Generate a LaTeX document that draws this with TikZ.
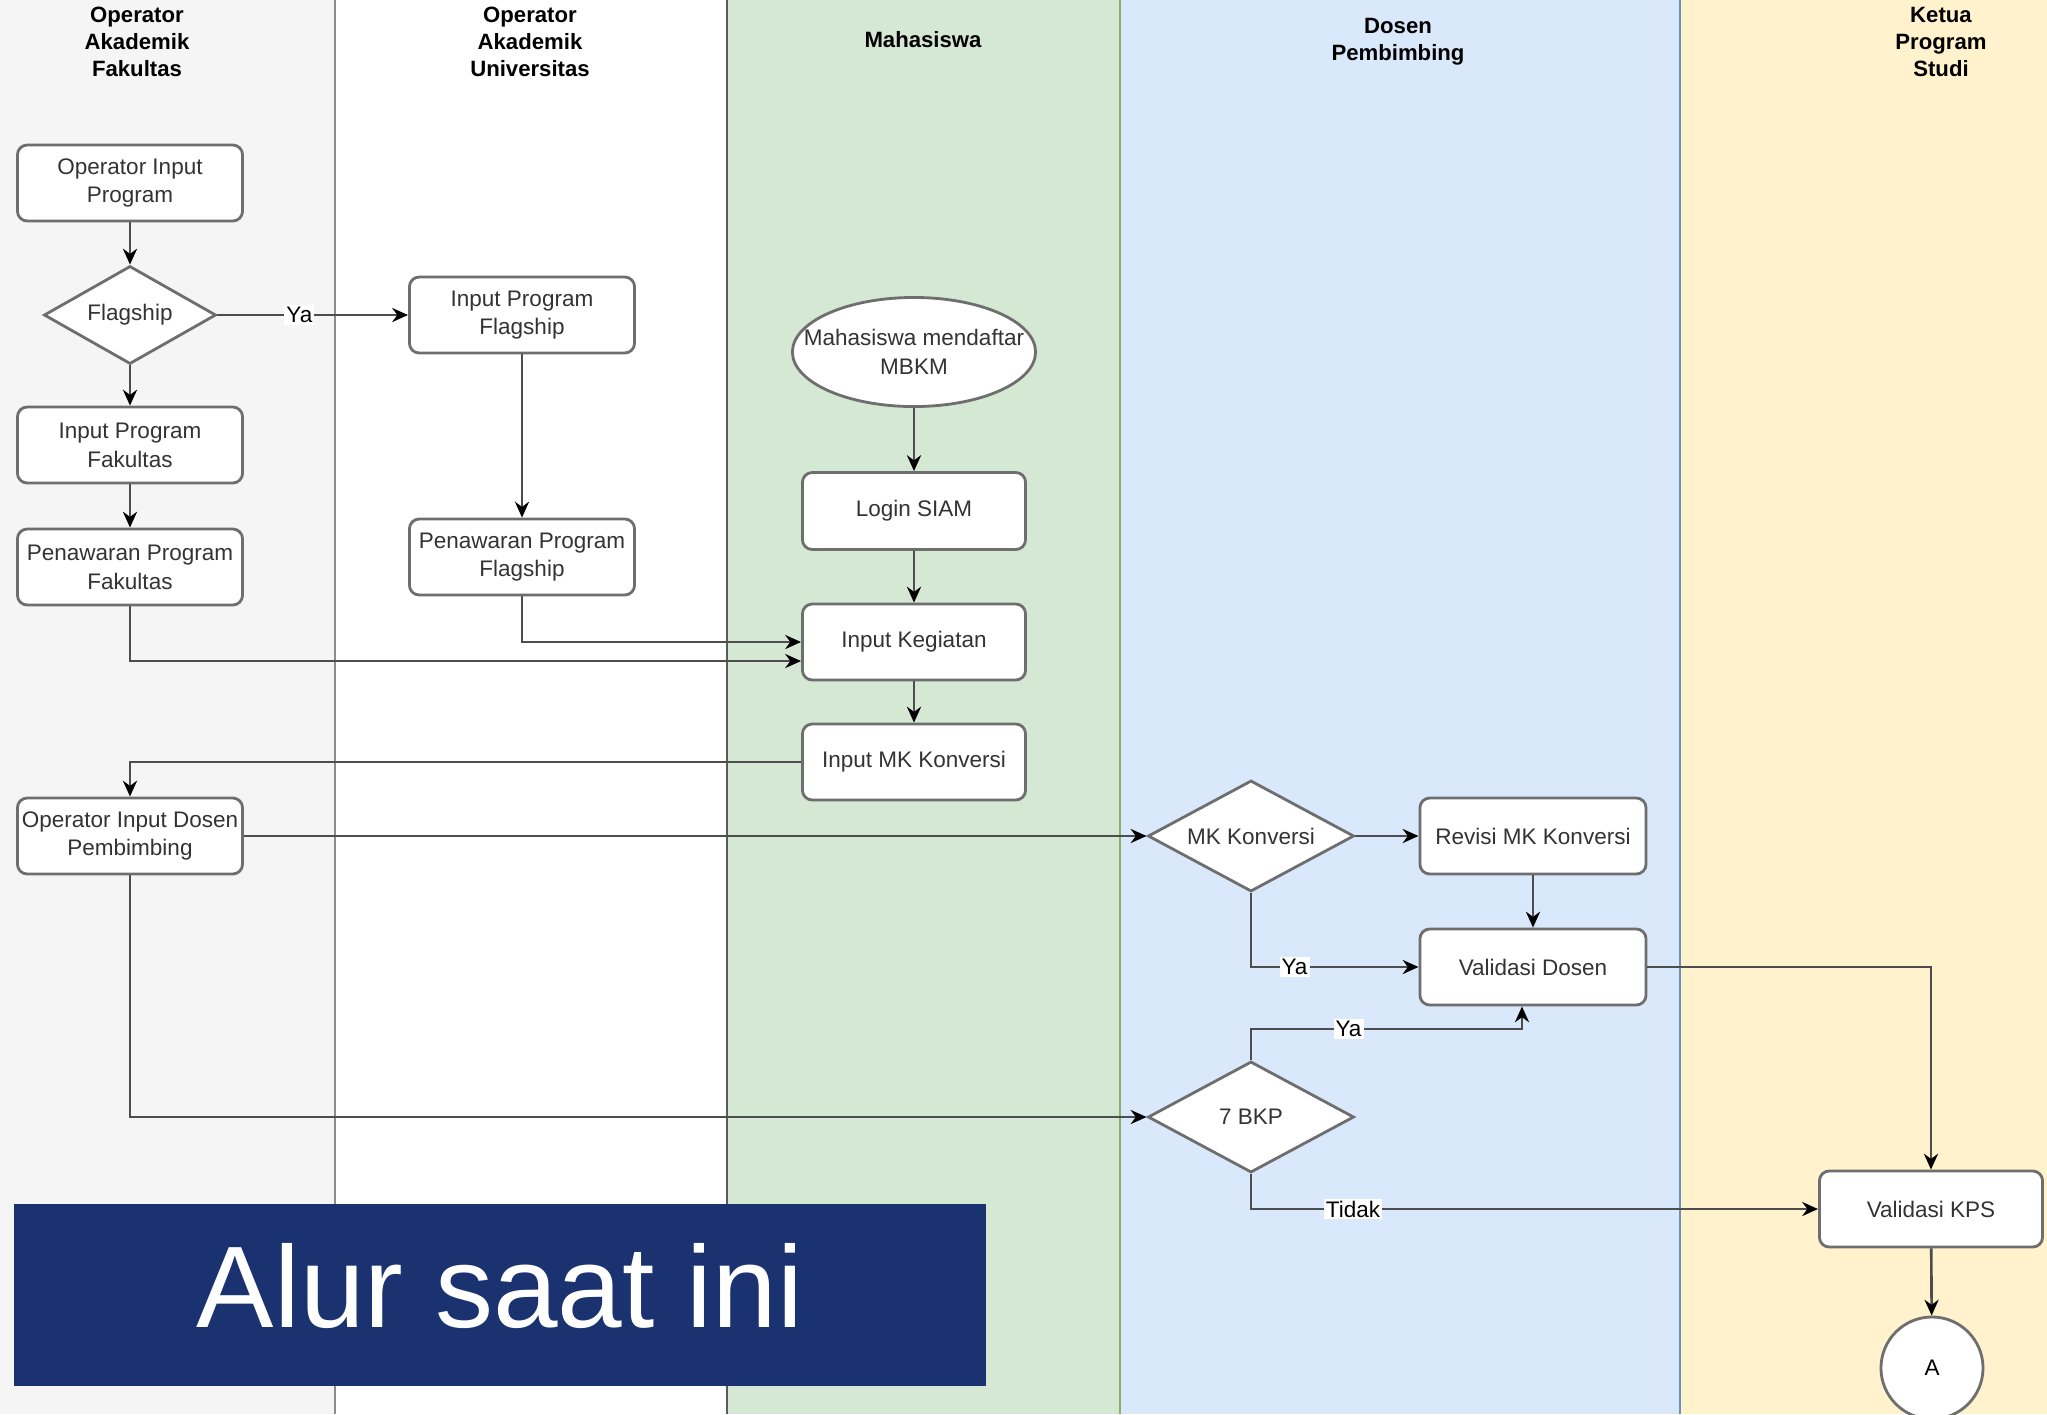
\documentclass[tikz,border=0pt]{standalone}
\usepackage{fontspec}
\setmainfont{Liberation Sans}
\usetikzlibrary{shapes.geometric,arrows.meta}
\definecolor{laneGray}{HTML}{F5F5F5}
\definecolor{laneGreen}{HTML}{D5E8D4}
\definecolor{laneBlue}{HTML}{DAE8FC}
\definecolor{laneYellow}{HTML}{FFF2CC}
\definecolor{divGray}{HTML}{8C8C8C}
\definecolor{divDark}{HTML}{5A5A5A}
\definecolor{divGreen}{HTML}{82B366}
\definecolor{divBlue}{HTML}{6C8EBF}
\definecolor{boxLine}{HTML}{6E6E6E}
\definecolor{lineGray}{HTML}{4D4D4D}
\definecolor{txtGray}{HTML}{333333}
\definecolor{bannerBlue}{HTML}{1A3270}

\begin{document}
\begin{tikzpicture}[x=0.01cm,y=-0.01cm,
    every node/.style={font=\fontsize{6.4}{8.2}\selectfont, text=txtGray},
    proc/.style={draw=boxLine, line width=0.8pt, rounded corners=2.8pt, fill=white,
        minimum width=2.25cm, minimum height=0.76cm, align=center, inner sep=1pt},
    dec/.style={diamond, aspect=1.85, draw=boxLine, line width=0.8pt, fill=white, inner sep=0pt,
        minimum width=2.06cm, minimum height=1.11cm},
    conn/.style={draw=lineGray, line width=0.75pt, -{Stealth[length=4.5pt,width=4pt,color=black]}},
    lbl/.style={fill=white, inner sep=0.6pt, text=black},
    lanehead/.style={font=\fontsize{6.3}{7.6}\selectfont\bfseries, align=center, text=black}]
    \useasboundingbox (0,0) rectangle (2047,1414);
    \fill[laneGray] (0,0) rectangle (335,1414);
    \fill[white] (335,0) rectangle (727,1414);
    \fill[laneGreen] (727,0) rectangle (1120,1414);
    \fill[laneBlue] (1120,0) rectangle (1680,1414);
    \fill[laneYellow] (1680,0) rectangle (2047,1414);
    \draw[divGray, line width=0.6pt] (335,0) -- (335,1414);
    \draw[divDark, line width=0.6pt] (727,0) -- (727,1414);
    \draw[divGreen, line width=0.6pt] (1120,0) -- (1120,1414);
    \draw[divBlue, line width=0.6pt] (1680,0) -- (1680,1414);

    \node[lanehead] (hfak) at (137,42) {Operator\\Akademik\\Fakultas};
    \node[lanehead] (huniv) at (530,42) {Operator\\Akademik\\Universitas};
    \node[lanehead] (hmhs) at (923,40) {Mahasiswa};
    \node[lanehead] (hdos) at (1398,42) {Dosen\\Pembimbing};
    \node[lanehead] (hkps) at (1941,42) {Ketua\\Program\\Studi};

    \node[proc] (opprog) at (130,183) {Operator Input\\Program};
    \node[dec, minimum width=1.72cm, minimum height=0.98cm] (flag) at (130,315) {Flagship};
    \node[proc] (infak) at (130,445) {Input Program\\Fakultas};
    \node[proc] (penfak) at (130,567) {Penawaran Program\\Fakultas};
    \node[proc] (inflag) at (522,315) {Input Program\\Flagship};
    \node[proc] (penflag) at (522,557) {Penawaran Program\\Flagship};
    \node[ellipse, draw=boxLine, line width=0.8pt, fill=white, inner sep=0pt,
        minimum width=2.43cm, minimum height=1.09cm,
        label={[align=center]center:Mahasiswa mendaftar\\MBKM}] (daftar) at (914,352) {};
    \node[proc, minimum width=2.23cm, minimum height=0.77cm] (login) at (914,511) {Login SIAM};
    \node[proc, minimum width=2.23cm] (kegiatan) at (914,642) {Input Kegiatan};
    \node[proc, minimum width=2.23cm] (mkinput) at (914,762) {Input MK Konversi};
    \node[proc] (opdosen) at (130,836) {Operator Input Dosen\\Pembimbing};
    \node[dec] (mkkonv) at (1251,836) {MK Konversi};
    \node[proc, minimum width=2.26cm] (revisi) at (1533,836) {Revisi MK Konversi};
    \node[proc, minimum width=2.26cm] (valdos) at (1533,967) {Validasi Dosen};
    \node[dec] (bkp) at (1251,1117) {7 BKP};
    \node[proc, minimum width=2.23cm] (valkps) at (1931,1209) {Validasi KPS};
    \node[circle, draw=boxLine, line width=0.8pt, fill=white, minimum size=1.02cm, inner sep=0pt, text=black] (konek) at (1932,1368) {A};

    \draw[conn] (opprog) -- (flag);
    \draw[conn] (flag) -- (infak);
    \draw[conn] (flag) -- node[lbl, pos=0.43] {Ya} (inflag);
    \draw[conn] (infak) -- (penfak);
    \draw[conn] (inflag) -- (penflag);
    \draw[conn] (penflag.south) |- (kegiatan.west);
    \draw[conn] (penfak.south) |- ([yshift=-0.19cm]kegiatan.west);
    \draw[conn] (daftar) -- (login);
    \draw[conn] (login) -- (kegiatan);
    \draw[conn] (kegiatan) -- (mkinput);
    \draw[conn] (mkinput.west) -| (opdosen.north);
    \draw[conn] (opdosen.east) -- (mkkonv.west);
    \draw[conn] (opdosen.south) |- (bkp.west);
    \draw[conn] (mkkonv.east) -- (revisi.west);
    \draw[conn] (mkkonv.south) |- node[lbl, pos=0.63] {Ya} (valdos.west);
    \draw[conn] (revisi) -- (valdos);
    \draw[conn] (bkp.north) -- ++(0,-31) -| node[lbl, pos=0.18] {Ya} ([xshift=-0.11cm]valdos.south);
    \draw[conn] (bkp.south) |- node[lbl, pos=0.59] {Tidak} (valkps.west);
    \draw[conn] (valdos.east) -| (valkps.north);
    \draw[conn] (valkps) -- (konek);

    \node[fill=bannerBlue, minimum width=9.72cm, minimum height=1.81cm] (banner) at (500,1295) {};
    \node[text=white, font=\fontsize{33}{40}\selectfont] (judul) at (500,1286) {Alur saat ini};
\end{tikzpicture}
\end{document}
